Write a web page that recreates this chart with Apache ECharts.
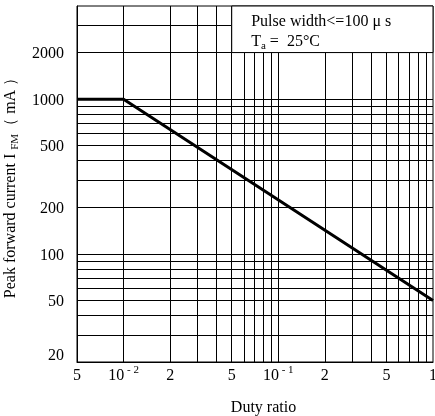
<!DOCTYPE html>
<html><head><meta charset="utf-8">
<style>html,body{margin:0;padding:0;background:#fff}#c{width:435px;height:416px}</style>
<script src="https://cdn.jsdelivr.net/npm/echarts@6.0.0/dist/echarts.min.js"></script>
</head><body><div id="c"></div>
<script>
// ---- data ----
const dutyRatio = [0.005, 0.01, 1];
const peakCurrent = [1000, 1000, 50];
const xRange = [0.005, 1];
const yRange = [20, 4000];
const xGridValues = [0.006, 0.007, 0.008, 0.009, 0.01, 0.02, 0.03, 0.04, 0.05, 0.06, 0.07, 0.08, 0.09,
                     0.1, 0.2, 0.3, 0.4, 0.5, 0.6, 0.7, 0.8, 0.9];
const yGridValues = [30, 40, 50, 60, 70, 80, 90, 100, 200, 300, 400, 500, 600, 700, 800, 900, 1000, 2000, 3000];
const xTickValues = [0.005, 0.01, 0.02, 0.05, 0.1, 0.2, 0.5, 1];
const xTickLabels = ['5', '10|- 2', '2', '5', '10|- 1', '2', '5', '1'];
const yTickValues = [20, 50, 100, 200, 500, 1000, 2000];
const yTickLabels = ['20', '50', '100', '200', '500', '1000', '2000'];
const noteX = [0.05, 1];
const noteY = [2000, 4000];
const noteLines = ['Pulse width<=100 μ s', 'T|a| =  25°C'];
const xTitle = 'Duty ratio';
const yTitle = ['Peak forward current I ', 'FM', '（ mA ）'];

const serif = 'Liberation Serif';
const FS = 16;
const chart = echarts.init(document.getElementById('c'));

function xLabelFmt(v) {
  let i = xTickValues.findIndex(t => Math.abs(t - v) / t < 1e-6);
  if (i < 0) return '';
  const s = xTickLabels[i];
  if (s.indexOf('|') >= 0) {
    const p = s.split('|');
    return '{n|' + p[0] + '}{sup| ' + p[1] + '}';
  }
  return '{n|' + s + '}';
}
function yLabelFmt(v) {
  let i = yTickValues.findIndex(t => Math.abs(t - v) / t < 1e-6);
  if (i < 0) return '';
  return (i === 0 ? '{up|' : '{n|') + yTickLabels[i] + '}';
}
const noteText = '{t|' + noteLines[0] + '}\n' +
  noteLines[1].split('|').map((p, k) => k === 1 ? '{sub|' + p + '}' : '{t|' + p + '}').join('');

chart.setOption({
  animation: false,
  grid: {left: 77, right: 2, top: 6, bottom: 54, outerBoundsMode: 'none', containLabel: false,
         show: true, borderColor: '#000', borderWidth: 1},
  xAxis: {
    type: 'log', logBase: 10, min: xRange[0], max: xRange[1],
    name: xTitle, nameLocation: 'middle', nameGap: 38,
    nameTextStyle: {fontFamily: serif, fontSize: FS, color: '#000', padding: [0, 0, 0, 17]},
    axisLine: {show: true, lineStyle: {color: '#000', width: 1}},
    axisTick: {show: false},
    splitLine: {show: false},
    axisLabel: {
      customValues: xTickValues, margin: 3, formatter: xLabelFmt,
      rich: {
        n: {fontFamily: serif, fontSize: FS, color: '#000', verticalAlign: 'bottom', lineHeight: 19},
        sup: {fontFamily: serif, fontSize: 11, color: '#000', verticalAlign: 'top', lineHeight: 19}
      }
    }
  },
  yAxis: {
    type: 'log', logBase: 10, min: yRange[0], max: yRange[1],
    name: '{t|' + yTitle[0] + '}{sub|' + yTitle[1] + '}{t|' + yTitle[2] + '}',
    nameLocation: 'middle', nameGap: 50,
    nameTextStyle: {
      rich: {
        t: {fontFamily: serif, fontSize: FS, color: '#000', lineHeight: 20, verticalAlign: 'middle'},
        sub: {fontFamily: serif, fontSize: 11, color: '#000', lineHeight: 12, verticalAlign: 'bottom'}
      }
    },
    axisLine: {show: true, lineStyle: {color: '#000', width: 1}},
    axisTick: {show: false},
    splitLine: {show: false},
    axisLabel: {
      customValues: yTickValues, margin: 13, formatter: yLabelFmt,
      rich: {
        n: {fontFamily: serif, fontSize: FS, color: '#000', padding: [3, 0, 0, 0]},
        up: {fontFamily: serif, fontSize: FS, color: '#000', padding: [0, 0, 12, 0]}
      }
    }
  },
  series: [
    {
      name: 'grid', type: 'line', data: [], z: 1, silent: true,
      markLine: {
        z: 1, silent: true, animation: false, symbol: ['none', 'none'],
        label: {show: false},
        lineStyle: {color: '#000', width: 1, type: 'solid'},
        emphasis: {disabled: true},
        data: xGridValues.map(v => ({xAxis: v})).concat(yGridValues.map(v => ({yAxis: v})))
      }
    },
    {
      name: 'note', type: 'line', data: [], z: 3, silent: true,
      markArea: {
        z: 3, silent: true, animation: false,
        itemStyle: {color: '#fff', borderColor: '#000', borderWidth: 1, opacity: 1},
        label: {
          show: true, position: 'insideTopLeft', distance: 0, padding: [6, 0, 0, 20],
          formatter: noteText,
          rich: {
            t: {fontFamily: serif, fontSize: FS, color: '#000', lineHeight: 20},
            sub: {fontFamily: serif, fontSize: 11, color: '#000', lineHeight: 12, verticalAlign: 'bottom'}
          }
        },
        emphasis: {disabled: true},
        data: [[{coord: [noteX[0], noteY[0]]}, {coord: [noteX[1], noteY[1]]}]]
      }
    },
    {
      name: 'IFM', type: 'line', z: 5, symbol: 'none', silent: true,
      lineStyle: {color: '#000', width: 3},
      data: dutyRatio.map((d, i) => [d, peakCurrent[i]])
    }
  ]
});
</script></body></html>
